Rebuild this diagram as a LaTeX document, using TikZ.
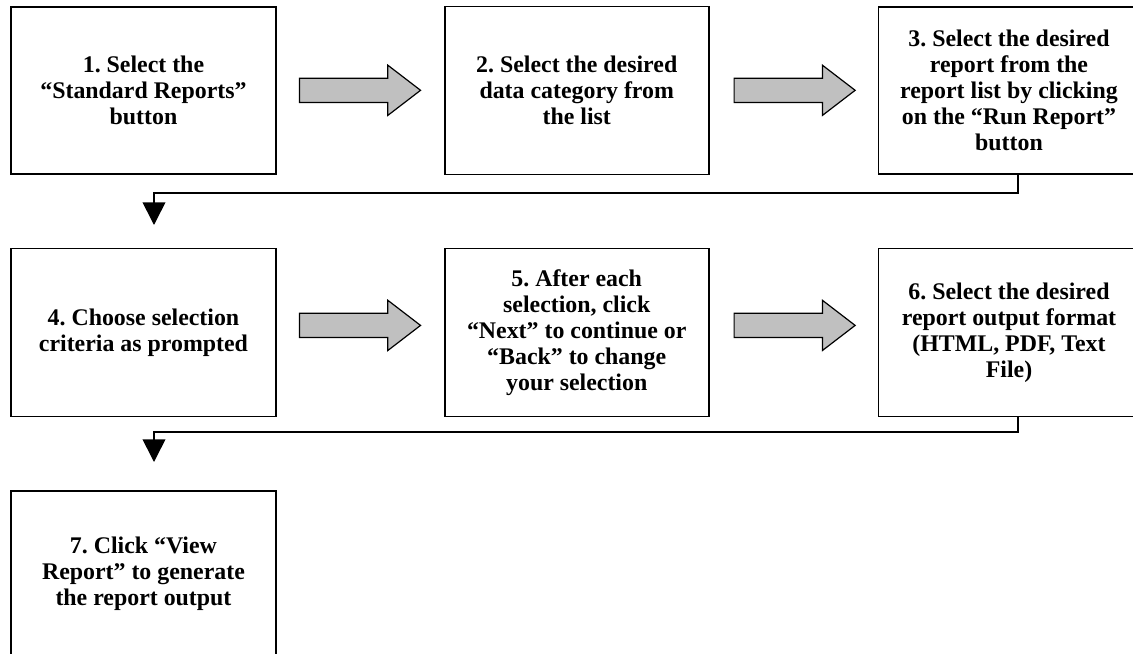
\documentclass[tikz,border=0pt]{standalone}
\usepackage{fontspec}
\setmainfont{Liberation Serif}
\usepackage{tikz}
\usetikzlibrary{arrows.meta, positioning, shapes.arrows}
\definecolor{arrowgray}{HTML}{C0C0C0}
\frenchspacing
\tikzstyle{fStep} = [rectangle, draw=black, line width=1.2pt, inner sep=0pt, align=center, font=\bfseries\fontsize{17.9}{19.5}\selectfont, minimum width=199pt, minimum height=126pt]
\tikzstyle{fBlock} = [single arrow, draw=black, line width=0.9pt, fill=arrowgray, inner xsep=0pt, inner ysep=8.625pt, minimum height=90.75pt, single arrow head extend=9.75pt, single arrow tip angle=75]
\tikzstyle{fLink} = [line width=1.2pt, -{Triangle[width=17pt,length=17pt]}]

\begin{document}
\begin{tikzpicture}
    \useasboundingbox (0,0) rectangle (849.75pt,-490.5pt);
    \node (b1) [fStep, anchor=north west, minimum height=125.25pt] at (7.5pt,-4.5pt) {1. Select the\\“Standard Reports”\\button};
    \node (b2) [fStep, right=125.25pt of b1, minimum width=198pt] {2. Select the desired\\data category from\\the list};
    \node (b3) [fStep, right=126pt of b2, minimum width=196pt, minimum height=125.25pt] {3. Select the desired\\report from the\\report list by clicking\\on the “Run Report”\\button};
    \node (b4) [fStep, below=54.75pt of b1] {4. Choose selection\\criteria as prompted};
    \node (b5) [fStep, right=125.25pt of b4, minimum width=198pt] {5. After each\\selection, click\\“Next” to continue or\\“Back” to change\\your selection};
    \node (b6) [fStep, right=126pt of b5, minimum width=196pt] {6. Select the desired\\report output format\\(HTML, PDF, Text\\File)};
    \node (b7) [fStep, below=54.75pt of b4, minimum height=123.75pt] {7. Click “View\\Report” to generate\\the report output};

    \node (a12) [fBlock, right=16.5pt of b1] {};
    \node (a23) [fBlock, right=18pt of b2] {};
    \node (a45) [fBlock, right=16.5pt of b4, yshift=5.25pt] {};
    \node (a56) [fBlock, right=18pt of b5, yshift=5.25pt] {};

    \coordinate (j3) at (763.5pt,-144.75pt);
    \coordinate (t4) at (115.5pt,-168.75pt);
    \coordinate (j6) at (763.5pt,-324pt);
    \coordinate (t7) at (115.5pt,-346.5pt);

    \draw [fLink] (b3.south -| j3) -- (j3) -| (t4);
    \draw [fLink] (b6.south -| j6) -- (j6) -| (t7);
\end{tikzpicture}
\end{document}
